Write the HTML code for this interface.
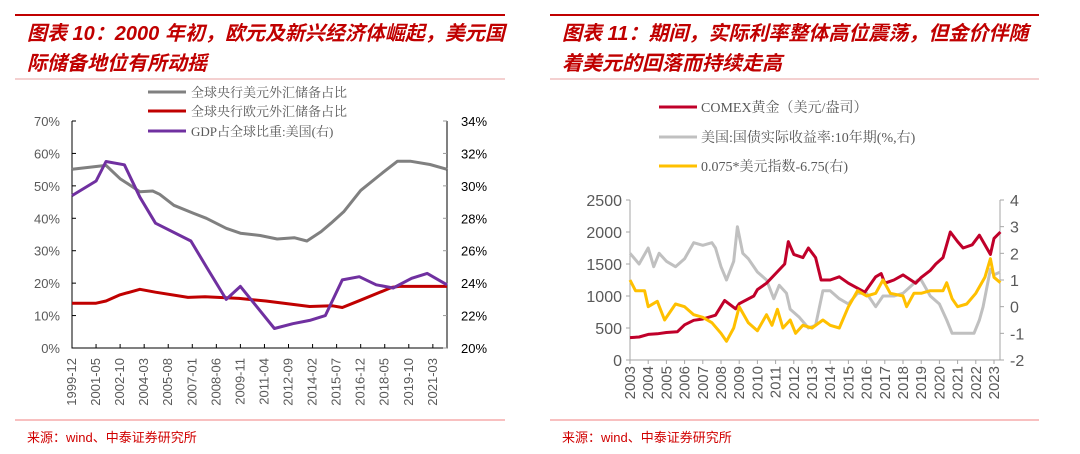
<!DOCTYPE html>
<html><head><meta charset="utf-8">
<style>
html,body{margin:0;padding:0;background:#fff;}
svg{display:block;}
text{font-family:"Liberation Sans","Noto Sans CJK SC",sans-serif;}
.ttl{font-size:20px;font-weight:bold;font-style:italic;fill:#c00000;}
.tick{font-size:13px;fill:#595959;}
.leg{font-size:13px;fill:#595959;font-family:"Liberation Serif","Noto Serif CJK SC",serif;}
.src{font-size:13px;fill:#d00000;}
</style></head>
<body>
<svg id="svg" width="1080" height="454" xmlns="http://www.w3.org/2000/svg">
<g>
<line x1="15" y1="15" x2="505" y2="15" stroke="#c00000" stroke-width="2"/>
<text class="ttl" x="27" y="40">图表 10：2000 年初，欧元及新兴经济体崛起，美元国</text>
<text class="ttl" x="27" y="70">际储备地位有所动摇</text>
<line x1="15" y1="79" x2="505" y2="79" stroke="#e8a0a0" stroke-width="1"/>
</g>
<g>
<line x1="550" y1="15" x2="1039" y2="15" stroke="#c00000" stroke-width="2"/>
<text class="ttl" x="562" y="40">图表 11：期间，实际利率整体高位震荡，但金价伴随</text>
<text class="ttl" x="562" y="70">着美元的回落而持续走高</text>
<line x1="550" y1="79" x2="1039" y2="79" stroke="#e8a0a0" stroke-width="1"/>
</g>
<g>
<line x1="148" y1="92" x2="186" y2="92" stroke="#808080" stroke-width="3"/>
<text class="leg" x="191" y="97">全球央行美元外汇储备占比</text>
<line x1="148" y1="111" x2="186" y2="111" stroke="#c00000" stroke-width="3"/>
<text class="leg" x="191" y="116">全球央行欧元外汇储备占比</text>
<line x1="148" y1="131" x2="186" y2="131" stroke="#7030a0" stroke-width="3"/>
<text class="leg" x="191" y="136">GDP占全球比重:美国(右)</text>
</g>
<g>
<line x1="659" y1="107" x2="697" y2="107" stroke="#c0002a" stroke-width="3"/>
<text class="leg" x="701" y="112" style="font-size:14px">COMEX黄金（美元/盎司）</text>
<line x1="659" y1="137" x2="697" y2="137" stroke="#c0c0c0" stroke-width="3"/>
<text class="leg" x="701" y="142" style="font-size:14px">美国:国债实际收益率:10年期(%,右)</text>
<line x1="659" y1="166" x2="697" y2="166" stroke="#ffc000" stroke-width="3"/>
<text class="leg" x="701" y="171" style="font-size:14px">0.075*美元指数-6.75(右)</text>
</g>
<g id="lc"></g>
<g id="rc"></g>
<g>
<line x1="15" y1="420" x2="505" y2="420" stroke="#f08080" stroke-width="1"/>
<text class="src" x="27" y="442">来源：wind、中泰证券研究所</text>
<line x1="550" y1="420" x2="1039" y2="420" stroke="#f08080" stroke-width="1"/>
<text class="src" x="562" y="442">来源：wind、中泰证券研究所</text>
</g>
</svg>
<script>
// ---- left chart data (x = months since 1999-12) ----
const leftTickLabels = ["1999-12","2001-05","2002-10","2004-03","2005-08","2007-01","2008-06","2009-11","2011-04","2012-09","2014-02","2015-07","2016-12","2018-05","2019-10","2021-03"];
const leftYTicks = ["0%","10%","20%","30%","40%","50%","60%","70%"];
const rightYTicksL = ["20%","22%","24%","26%","28%","30%","32%","34%"];
const usdMonths = [0,24,34,48,57,62,72,86,95,109,119,133,145,157,166,176,183,192,204,220,230,239,253,265];
const usdShare = [55.1,56.3,52.2,48.2,48.4,47.4,44.0,41.5,40.0,36.9,35.4,34.7,33.6,34.0,33.0,35.9,38.5,42.0,48.6,54.2,57.6,57.6,56.6,55.1];
const eurMonths = [0,17,24,34,48,59,82,94,118,137,168,184,191,203,226,231,265];
const eurShare = [13.8,13.8,14.5,16.4,18.1,17.2,15.6,15.8,15.3,14.5,12.8,13.0,12.5,14.6,18.7,19.0,19.0];
const gdpMonths = [0,17,24,37,48,59,84,95,109,119,143,156,168,179,191,203,215,227,240,251,265];
const gdpShare = [29.4,30.3,31.5,31.3,29.3,27.7,26.6,25.0,23.0,23.8,21.2,21.5,21.7,22.0,24.2,24.4,23.9,23.7,24.3,24.6,23.9];

// ---- right chart data (x = fractional year) ----
const rightYearLabels = ["2003","2004","2005","2006","2007","2008","2009","2010","2011","2012","2013","2014","2015","2016","2017","2018","2019","2020","2021","2022","2023"];
const goldTicks = ["0","500","1000","1500","2000","2500"];
const rateTicks = ["-2","-1","0","1","2","3","4"];
const goldYears = [2003,2003.5,2004,2004.5,2005,2005.6,2006,2006.5,2007,2007.7,2008.2,2008.8,2009,2009.8,2010,2010.5,2011,2011.5,2011.7,2012,2012.5,2012.8,2013.2,2013.5,2014,2014.5,2015,2015.9,2016.5,2016.8,2017,2017.5,2018,2018.7,2019,2019.5,2019.8,2020.2,2020.6,2021,2021.3,2021.8,2022.2,2022.8,2023,2023.35];
const goldPrice = [350,360,400,410,430,440,550,620,640,700,930,800,880,1000,1100,1200,1350,1500,1850,1650,1600,1750,1600,1250,1250,1300,1200,1060,1300,1350,1200,1250,1330,1200,1290,1400,1500,1600,2000,1850,1750,1800,1950,1650,1900,2000];
const yieldYears = [2003,2003.5,2004,2004.3,2004.6,2005,2005.5,2006,2006.5,2007,2007.5,2007.7,2008,2008.3,2008.7,2008.9,2009.2,2009.5,2010,2010.5,2010.9,2011.2,2011.6,2011.8,2012.3,2012.8,2013.2,2013.6,2014,2014.5,2015,2015.5,2016,2016.5,2016.9,2017.5,2018,2018.8,2019,2019.5,2020,2020.4,2020.7,2021,2021.5,2021.9,2022.2,2022.4,2022.8,2023,2023.35];
const realYield = [2.0,1.6,2.2,1.5,2.0,1.7,1.5,1.8,2.4,2.3,2.4,2.2,1.5,1.0,1.7,3.0,2.0,1.8,1.3,1.0,0.3,0.8,0.5,-0.1,-0.4,-0.8,-0.7,0.6,0.6,0.3,0.1,0.5,0.5,0.0,0.4,0.4,0.5,1.0,1.0,0.4,0.1,-0.5,-1.0,-1.0,-1.0,-1.0,-0.5,0.0,1.4,1.2,1.3];
const dxyYears = [2003,2003.3,2003.8,2004,2004.5,2004.9,2005.5,2006,2006.5,2007,2007.5,2008,2008.3,2008.7,2009,2009.5,2010,2010.5,2010.8,2011.1,2011.4,2011.8,2012.1,2012.5,2013,2013.6,2014,2014.5,2015,2015.5,2016,2016.5,2016.9,2017.3,2018,2018.2,2018.6,2019,2019.5,2020.2,2020.4,2020.7,2021,2021.5,2022,2022.5,2022.8,2023,2023.35];
const dxyScaled = [1.0,0.6,0.6,0.0,0.2,-0.5,0.1,0.0,-0.3,-0.4,-0.6,-1.0,-1.3,-0.8,0.0,-0.6,-0.9,-0.3,-0.7,-0.1,-0.8,-0.5,-1.0,-0.7,-0.8,-0.5,-0.7,-0.8,0.0,0.6,0.4,0.5,1.0,0.5,0.4,0.0,0.5,0.5,0.6,0.6,0.9,0.3,0.0,0.1,0.5,1.1,1.8,1.1,0.9];

const NS="http://www.w3.org/2000/svg";
function mk(parent,tag,attrs,txt){const e=document.createElementNS(NS,tag);for(const k in attrs)e.setAttribute(k,attrs[k]);if(txt!==undefined)e.textContent=txt;parent.appendChild(e);return e;}
function pathD(xs,ys,fx,fy){return xs.map((x,i)=>(i?"L":"M")+fx(x).toFixed(1)+","+fy(ys[i]).toFixed(1)).join("");}

// LEFT
const lc=document.getElementById('lc');
const L={x0:72,x1:447,y0:348,y1:121};
const lx=m=>L.x0+(L.x1-L.x0)*m/265;
const ly=v=>L.y0-(L.y0-L.y1)*v/70;
const ly2=v=>L.y0-(L.y0-L.y1)*(v-20)/14;
let ax=mk(lc,'path',{d:`M${L.x0},${L.y1}V${L.y0}H${L.x1}V${L.y1}`,fill:'none',stroke:'#000',"stroke-width":1});


leftYTicks.forEach((t,i)=>{const y=ly(i*10);
 mk(lc,'line',{x1:L.x0,y1:y,x2:L.x0+4,y2:y,stroke:'#000'});
 const e=mk(lc,'text',{class:'tick',x:L.x0-12,y:y+5,"text-anchor":"end"},t);
 
 });
rightYTicksL.forEach((t,i)=>{const y=ly2(20+i*2);
 mk(lc,'line',{x1:L.x1-4,y1:y,x2:L.x1,y2:y,stroke:'#999'});
 const e=mk(lc,'text',{class:'tick',x:L.x1+14,y:y+5,style:'fill:#000'},t);
 
 });
leftTickLabels.forEach((t,i)=>{const x=lx(i*17);
 mk(lc,'line',{x1:x,y1:L.y0,x2:x,y2:L.y0-4,stroke:'#000'});
 const e=mk(lc,'text',{class:'tick',x:0,y:0,"text-anchor":"end",transform:`translate(${x+4},${L.y0+10}) rotate(-90)`},t);
 
 });
let p=mk(lc,'path',{d:pathD(usdMonths,usdShare,lx,ly),fill:'none',stroke:'#808080',"stroke-width":3,"stroke-linejoin":'round'});


p=mk(lc,'path',{d:pathD(eurMonths,eurShare,lx,ly),fill:'none',stroke:'#c00000',"stroke-width":3,"stroke-linejoin":'round'});


p=mk(lc,'path',{d:pathD(gdpMonths,gdpShare,lx,ly2),fill:'none',stroke:'#7030a0',"stroke-width":3,"stroke-linejoin":'round'});



// RIGHT
const rc=document.getElementById('rc');
const R={x0:630,x1:1000,y0:360,y1:200};
const rx=yr=>R.x0+(yr-2003)*18.2;
const ry=v=>R.y0-(R.y0-R.y1)*v/2500;
const ry2=v=>R.y0-(R.y0-R.y1)*(v+2)/6;
ax=mk(rc,'path',{d:`M${R.x0},${R.y1}V${R.y0}H${R.x1}V${R.y1}`,fill:'none',stroke:'#a6a6a6',"stroke-width":1});


goldTicks.forEach((t,i)=>{const y=ry(i*500);
 mk(rc,'line',{x1:R.x0-4,y1:y,x2:R.x0,y2:y,stroke:'#a6a6a6'});
 const e=mk(rc,'text',{class:'tick',x:R.x0-8,y:y+6,"text-anchor":"end",style:'font-size:16px'},t);
 
 });
rateTicks.forEach((t,i)=>{const y=ry2(i-2);
 mk(rc,'line',{x1:R.x1,y1:y,x2:R.x1+4,y2:y,stroke:'#a6a6a6'});
 const e=mk(rc,'text',{class:'tick',x:R.x1+10,y:y+6,style:'font-size:16px'},t);
 
 });
rightYearLabels.forEach((t,i)=>{const x=rx(2003+i);
 mk(rc,'line',{x1:x,y1:R.y0,x2:x,y2:R.y0+4,stroke:'#a6a6a6'});
 const e=mk(rc,'text',{class:'tick',x:0,y:0,"text-anchor":"end",style:'font-size:15px',transform:`translate(${x+5},${R.y0+6}) rotate(-90)`},t);
 
 });
p=mk(rc,'path',{d:pathD(yieldYears,realYield,rx,ry2),fill:'none',stroke:'#c0c0c0',"stroke-width":3,"stroke-linejoin":'round'});


p=mk(rc,'path',{d:pathD(goldYears,goldPrice,rx,ry),fill:'none',stroke:'#c0002a',"stroke-width":3,"stroke-linejoin":'round'});


p=mk(rc,'path',{d:pathD(dxyYears,dxyScaled,rx,ry2),fill:'none',stroke:'#ffc000',"stroke-width":3,"stroke-linejoin":'round'});


</script>
</body></html>
